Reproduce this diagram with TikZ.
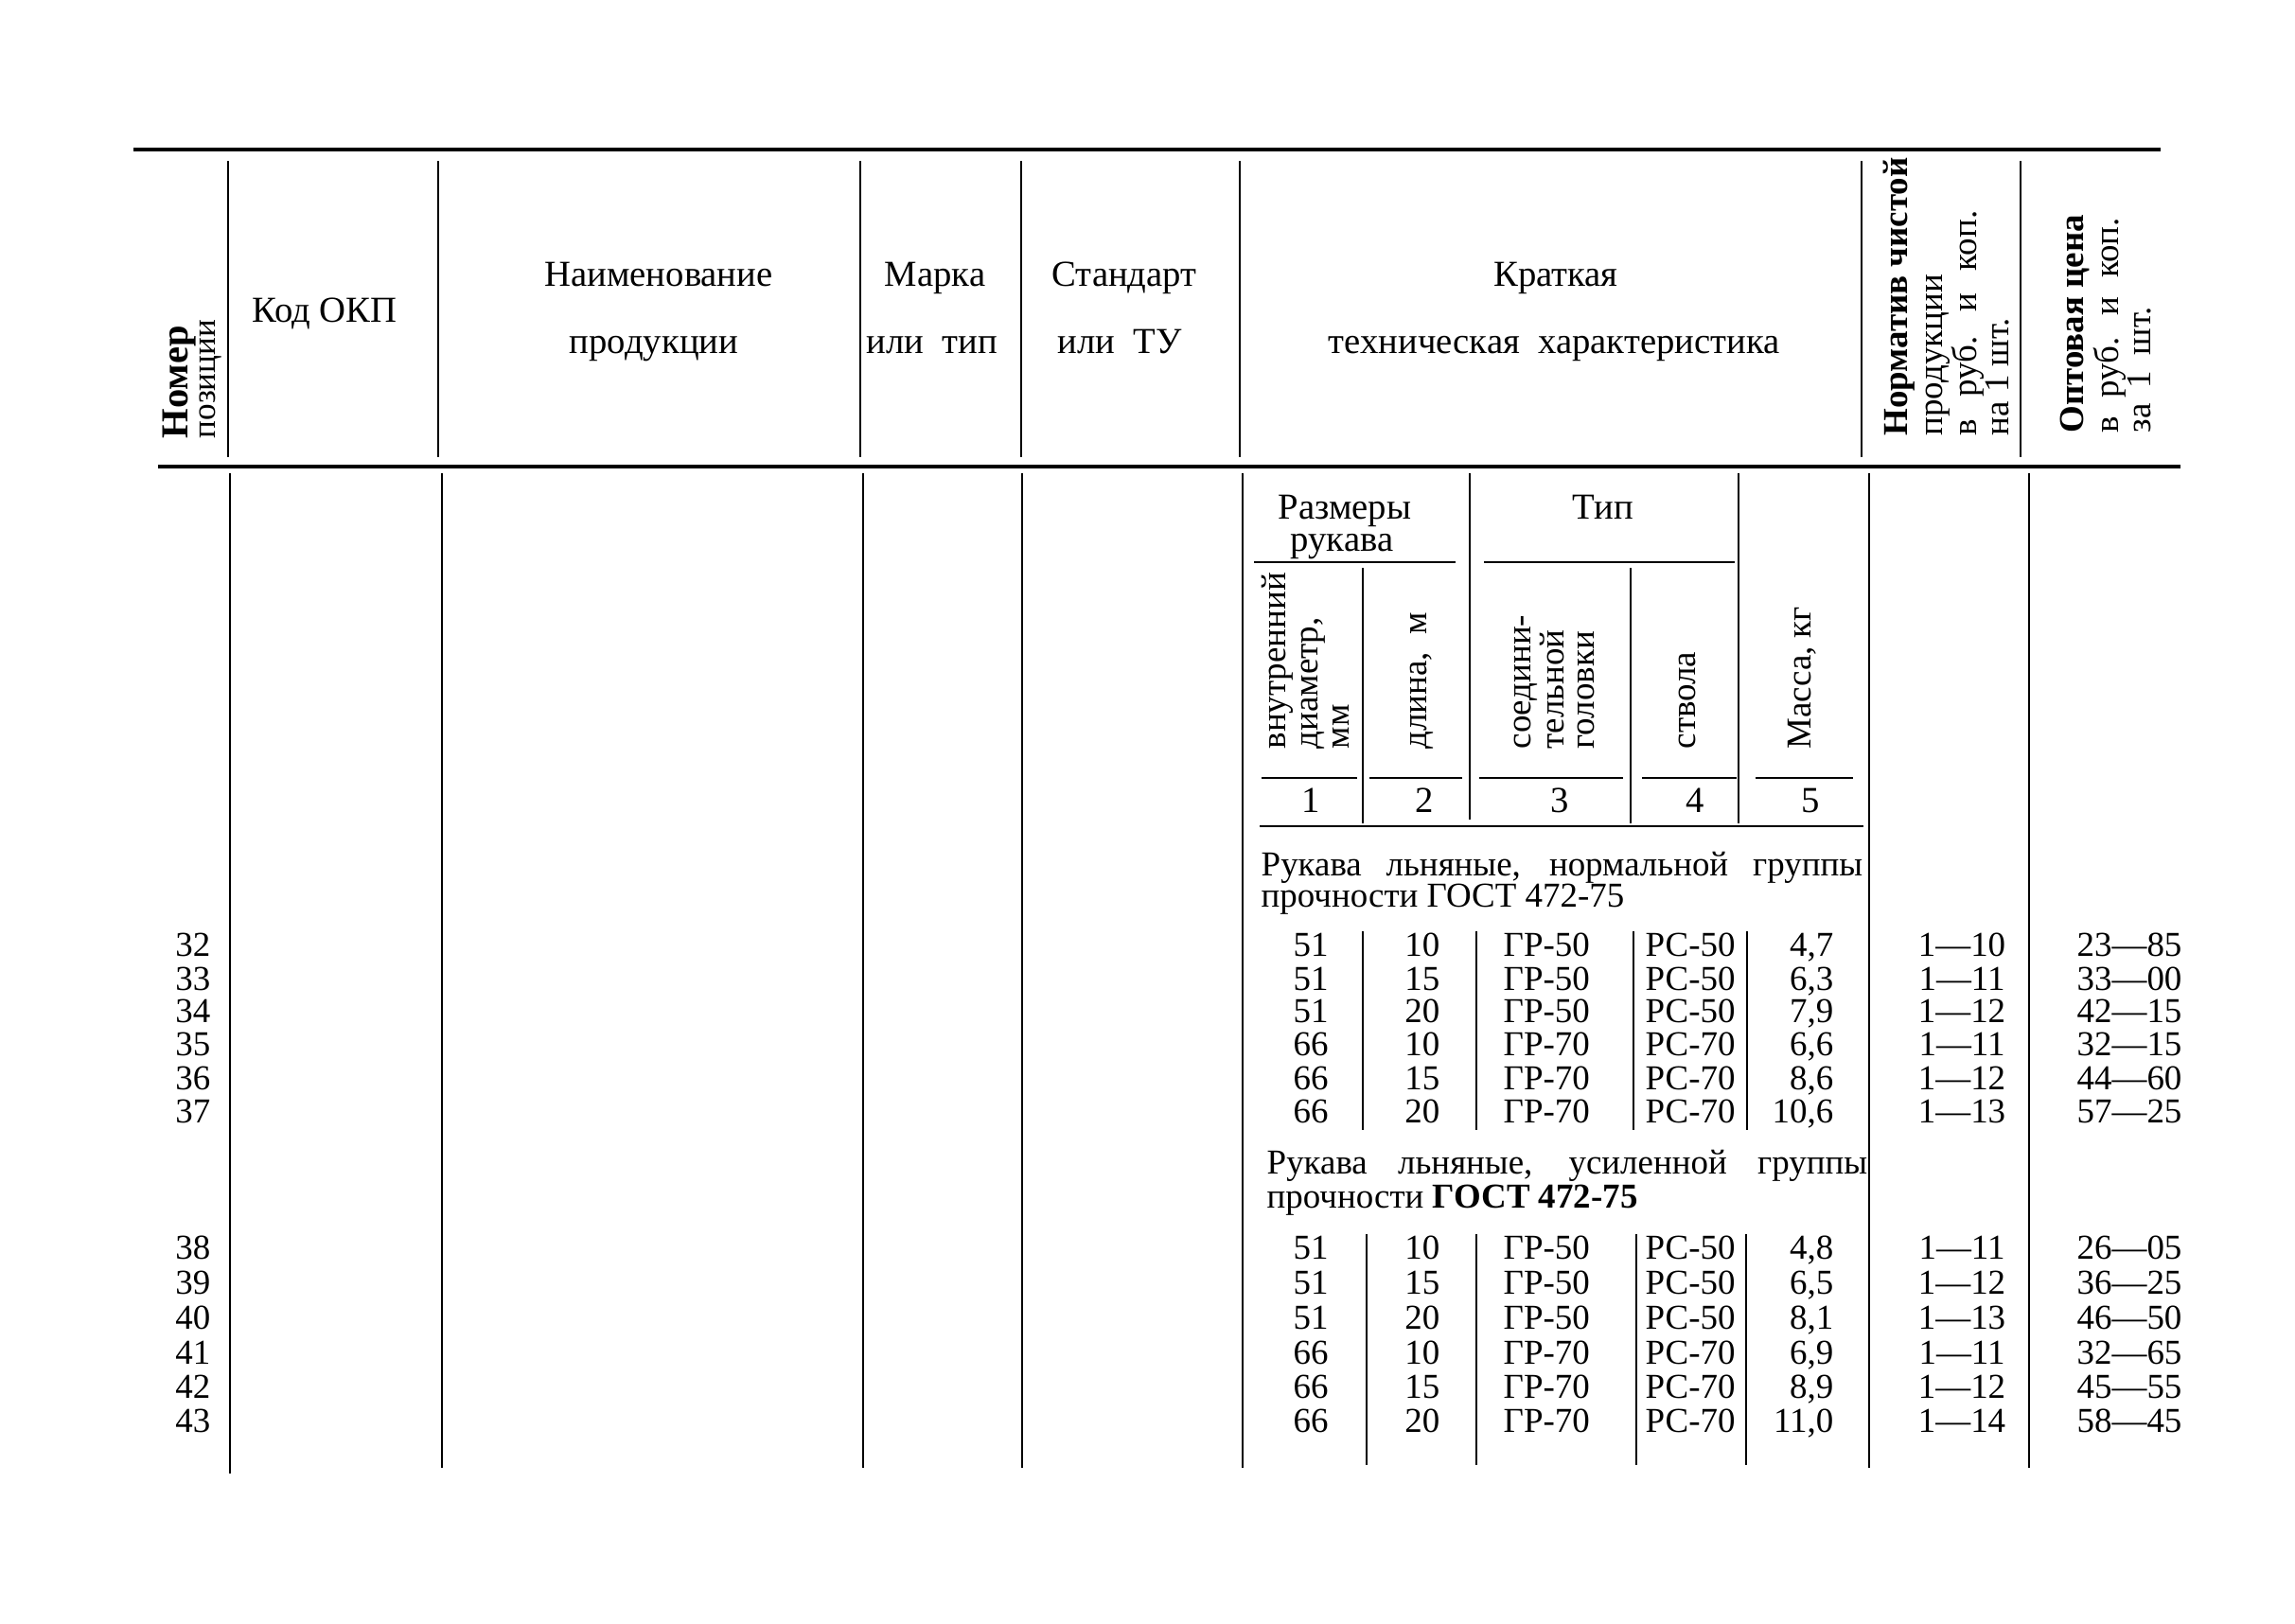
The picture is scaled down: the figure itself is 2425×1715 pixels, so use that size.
\documentclass[tikz,border=0pt]{standalone}
\usepackage{fontspec}
\setmainfont{Liberation Serif}
\newcommand\hdrfont{\fontsize{11pt}{12pt}\selectfont}
\newcommand\bodyfont{\fontsize{10.5pt}{11pt}\selectfont}
\newcommand\rotfont{\fontsize{10.5pt}{11pt}\selectfont}
\tikzset{
  hdr/.style={font=\hdrfont, inner sep=0pt, anchor=base},
  cell/.style={font=\bodyfont, inner sep=0pt},
  rot/.style={font=\rotfont, inner sep=0pt, rotate=90, anchor=base west},
  rulethick/.style={line width=1.1pt},
  rulemid/.style={line width=0.9pt},
  vline/.style={line width=0.7pt},
  thinline/.style={line width=0.55pt},
}
\begin{document}
\begin{tikzpicture}[x=0.01cm,y=-0.01cm]
\useasboundingbox[fill=white] (0,0) rectangle (2425,1715);
% ---- main rules
\draw[rulethick] (141,158) -- (2283,158);
\draw[rulemid] (167,493) -- (2304,493);
\foreach \xx in {241,463,909,1079,1310,1967,2135}
  \draw[vline] (\xx,170) -- (\xx,483);
\draw[vline] (243,500) -- (243,1557);
\foreach \xx in {467,912,1080,1313,1975,2144}
  \draw[vline] (\xx,500) -- (\xx,1551);
% ---- header texts
\node[rot, font=\bfseries\fontsize{11.5pt}{12pt}\selectfont] (nom1) at (198,464) {Номер};
\node[rot, font=\fontsize{10pt}{11pt}\selectfont] (nom2) at (227,464) {позиции};
\node[hdr] (kod) at (343,340) {Код ОКП};
\node[hdr] (naim1) at (696,302) {Наименование};
\node[hdr] (naim2) at (691,373) {продукции};
\node[hdr] (marka1) at (988,302) {Марка};
\node[hdr] (marka2) at (985,373) {или\ \ тип};
\node[hdr] (st1) at (1188,302) {Стандарт};
\node[hdr] (st2) at (1183,373) {или\ \ ТУ};
\node[hdr] (kr1) at (1644,302) {Краткая};
\node[hdr] (kr2) at (1642,373) {техническая\ \ характеристика};
\node[rot, font=\bfseries\rotfont] (nrm1) at (2015,461) {Норматив чистой};
\node[rot] (nrm2) at (2052,461) {продукции};
\node[rot] (nrm3) at (2088,461) {в\hspace{4pt} руб.\hspace{4pt} и\hspace{4pt} коп.};
\node[rot] (nrm4) at (2122,461) {на 1 шт.};
\node[rot, font=\bfseries\rotfont] (opt1) at (2201,458) {Оптовая цена};
\node[rot] (opt2) at (2238,458) {в\hspace{3pt} руб.\hspace{3pt} и\hspace{3pt} коп.};
\node[rot] (opt3) at (2272,458) {за\hspace{2pt} 1\hspace{2pt} шт.};
% ---- inner sub-header
\draw[thinline] (1553,500) -- (1553,866);
\draw[thinline] (1837,500) -- (1837,870);
\draw[vline] (1440,600) -- (1440,870);
\draw[vline] (1723,600) -- (1723,870);
\draw[thinline] (1325,594) -- (1538,594);
\draw[thinline] (1568,594) -- (1833,594);
\foreach \xa/\xb in {1333/1434,1447/1545,1563/1715,1735/1835,1855/1958}
  \draw[thinline] (\xa,822) -- (\xb,822);
\draw[thinline] (1331,873) -- (1969,873);
\node[hdr] (razm1) at (1421,548) {Размеры};
\node[hdr] (razm2) at (1418,582) {рукава};
\node[hdr] (tip) at (1694,548) {Тип};
\node[rot] (h1a) at (1358,792) {внутренний};
\node[rot] (h1b) at (1392,792) {диаметр,};
\node[rot] (h1c) at (1425,792) {мм};
\node[rot] (h2) at (1507,792) {длина,\ \ м};
\node[rot] (h3a) at (1617,792) {соедини-};
\node[rot] (h3b) at (1652,792) {тельной};
\node[rot] (h3c) at (1684,792) {головки};
\node[rot] (h4) at (1791,792) {ствола};
\node[rot] (h5) at (1913,792) {Масса, кг};
\node[hdr] (c1) at (1385,858) {1};
\node[hdr] (c2) at (1505,858) {2};
\node[hdr] (c3) at (1648,858) {3};
\node[hdr] (c4) at (1791,858) {4};
\node[hdr] (c5) at (1913,858) {5};
% ---- group headings
\node[cell, anchor=base west] (g1a) at (1332,925) {\makebox[6.35cm][s]{Рукава льняные, нормальной группы}};
\node[cell, anchor=base west] (g1b) at (1332,958) {прочности ГОСТ 472-75};
\node[cell, anchor=base west] (g2a) at (1338,1240) {\makebox[6.34cm][s]{Рукава льняные, усиленной группы}};
\node[cell, anchor=base west] (g2b) at (1338,1276) {прочности \textbf{ГОСТ 472-75}};
% ---- row separators
\foreach \xx in {1440,1560,1726,1846}
  \draw[thinline] (\xx,984) -- (\xx,1194);
\foreach \xx in {1444,1560,1729,1845}
  \draw[thinline] (\xx,1304) -- (\xx,1548);
% ---- rows
\foreach \yy/\n/\a/\b/\c/\d/\e/\f/\g in {
  1010/32/51/10/ГР-50/РС-50/{4,7}/1—10/23—85,
  1046/33/51/15/ГР-50/РС-50/{6,3}/1—11/33—00,
  1080/34/51/20/ГР-50/РС-50/{7,9}/1—12/42—15,
  1115/35/66/10/ГР-70/РС-70/{6,6}/1—11/32—15,
  1151/36/66/15/ГР-70/РС-70/{8,6}/1—12/44—60,
  1186/37/66/20/ГР-70/РС-70/{10,6}/1—13/57—25,
  1330/38/51/10/ГР-50/РС-50/{4,8}/1—11/26—05,
  1367/39/51/15/ГР-50/РС-50/{6,5}/1—12/36—25,
  1404/40/51/20/ГР-50/РС-50/{8,1}/1—13/46—50,
  1441/41/66/10/ГР-70/РС-70/{6,9}/1—11/32—65,
  1477/42/66/15/ГР-70/РС-70/{8,9}/1—12/45—55,
  1513/43/66/20/ГР-70/РС-70/{11,0}/1—14/58—45}{
  \node[cell, anchor=base east] (pos\n) at (223,\yy) {\n};
  \node[cell, anchor=base] (dia\n) at (1385,\yy) {\a};
  \node[cell, anchor=base east] (len\n) at (1522,\yy) {\b};
  \node[cell, anchor=base west] (gr\n) at (1588,\yy) {\c};
  \node[cell, anchor=base west] (rs\n) at (1738,\yy) {\d};
  \node[cell, anchor=base east] (mass\n) at (1938,\yy) {\e};
  \node[cell, anchor=base] (norm\n) at (2073,\yy) {\f};
  \node[cell, anchor=base] (price\n) at (2250,\yy) {\g};
}
\end{tikzpicture}
\end{document}
